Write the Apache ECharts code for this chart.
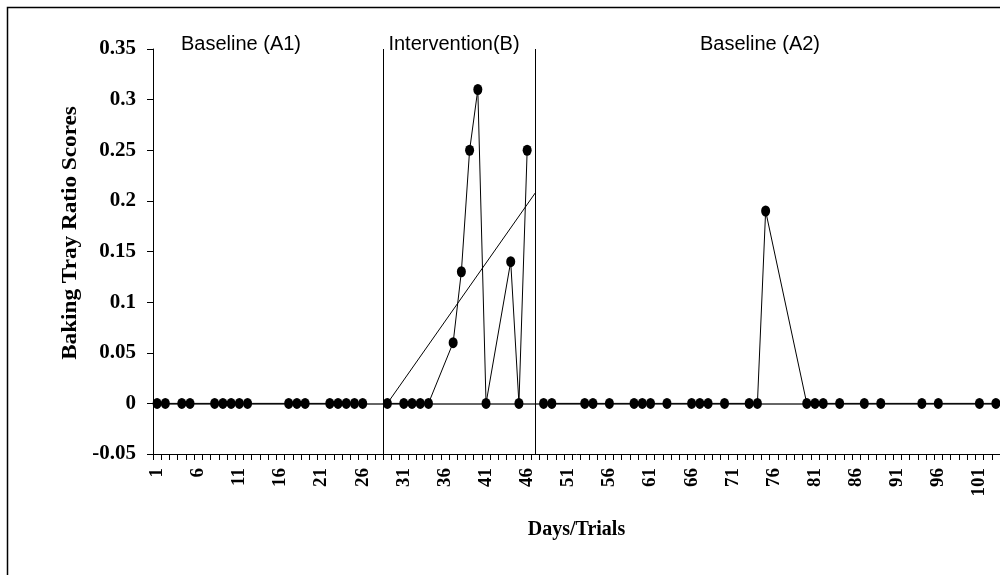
<!DOCTYPE html>
<html>
<head>
<meta charset="utf-8">
<title>Baking Tray Ratio Scores</title>
<script src="https://cdn.jsdelivr.net/npm/echarts@6/dist/echarts.min.js"></script>
<style>
  html, body { margin: 0; padding: 0; background: #fff; }
  #chart { width: 1000px; height: 575px; }
</style>
</head>
<body>
<div id="chart"></div>
<script>
// Number of days on the horizontal axis
const dayCount = 103;

// Baseline (A1) sessions
const daysA1 = [1, 2, 4, 5, 8, 9, 10, 11, 12, 17, 18, 19, 22, 23, 24, 25, 26];
const scoresA1 = [0, 0, 0, 0, 0, 0, 0, 0, 0, 0, 0, 0, 0, 0, 0, 0, 0];

// Intervention (B) sessions
const daysB = [29, 31, 32, 33, 34, 37, 38, 39, 40, 41, 44, 45, 46];
const scoresB = [0, 0, 0, 0, 0, 0.06, 0.13, 0.25, 0.31, 0, 0.14, 0, 0.25];

// Baseline (A2) sessions
const daysA2 = [48, 49, 53, 54, 56, 59, 60, 61, 63, 66, 67, 68, 70, 73, 74, 75,
                80, 81, 82, 84, 87, 89, 94, 96, 101, 103];
const scoresA2 = [0, 0, 0, 0, 0, 0, 0, 0, 0, 0, 0, 0, 0, 0, 0, 0.19,
                  0, 0, 0, 0, 0, 0, 0, 0, 0, 0];

// Trend line through the intervention phase (start, end)
const trendDays = [29, 47];
const trendScores = [0, 0.208];

// Phase change lines (in day units) and phase titles
const phaseChanges = [28.5, 47];
const phaseTitles = ['Baseline (A1)', 'Intervention(B)', 'Baseline (A2)'];

// Y axis range
const yMin = -0.05, yMax = 0.35, yStep = 0.05;

const categories = [];
for (let d = 1; d <= dayCount; d++) categories.push(String(d));

function toCategoryData(days, scores) {
  const arr = new Array(dayCount).fill(null);
  days.forEach((d, i) => { arr[d - 1] = scores[i]; });
  return arr;
}

const serif = '"Liberation Serif", "Times New Roman", serif';
const sans = '"Liberation Sans", Arial, sans-serif';

function phaseSeries(name, days, scores) {
  return {
    name: name,
    type: 'line',
    xAxisIndex: 0,
    yAxisIndex: 0,
    data: toCategoryData(days, scores),
    connectNulls: true,
    showAllSymbol: true,
    symbol: 'circle',
    symbolSize: [9, 11],
    itemStyle: { color: '#000' },
    lineStyle: { color: '#000', width: 1 },
    z: 5
  };
}

const chart = echarts.init(document.getElementById('chart'), null, { renderer: 'canvas' });

chart.setOption({
  animation: false,
  backgroundColor: '#fff',
  grid: { left: 153, right: 0, top: 49, bottom: 121 },
  xAxis: [
    {
      type: 'category',
      data: categories,
      boundaryGap: true,
      position: 'bottom',
      axisLine: { onZero: false, lineStyle: { color: '#000', width: 1 } },
      axisTick: { show: true, interval: 0, length: 6, alignWithLabel: false, lineStyle: { color: '#000' } },
      axisLabel: {
        interval: 4,
        rotate: 90,
        margin: 14,
        fontFamily: serif,
        fontWeight: 'bold',
        fontSize: 19,
        color: '#000'
      },
      splitLine: { show: false },
      name: 'Days/Trials',
      nameLocation: 'middle',
      nameGap: 66,
      nameTextStyle: { fontFamily: serif, fontWeight: 'bold', fontSize: 20, color: '#000' }
    },
    {
      type: 'value',
      min: 0.5,
      max: dayCount + 0.5,
      show: false
    }
  ],
  yAxis: {
    type: 'value',
    min: yMin,
    max: yMax,
    interval: yStep,
    axisLine: { show: true, lineStyle: { color: '#000', width: 1 } },
    axisTick: { show: true, length: 6, lineStyle: { color: '#000' } },
    splitLine: { show: false },
    axisLabel: {
      margin: 17,
      fontFamily: serif,
      fontWeight: 'bold',
      fontSize: 21,
      color: '#000',
      formatter: v => String(+v.toFixed(2))
    }
  },
  series: [
    {
      name: 'Trend (B)',
      type: 'line',
      xAxisIndex: 1,
      yAxisIndex: 0,
      data: trendDays.map((d, i) => [d, trendScores[i]]),
      symbol: 'none',
      lineStyle: { color: '#000', width: 1 },
      z: 4,
      markLine: {
        silent: true,
        symbol: 'none',
        label: { show: false },
        data: [
          { yAxis: 0, lineStyle: { color: '#333', width: 1.5, type: 'solid' } }
        ].concat(phaseChanges.map(x => ({ xAxis: x, lineStyle: { color: '#000', width: 1, type: 'solid' } })))
      }
    },
    phaseSeries('Baseline (A1)', daysA1, scoresA1),
    phaseSeries('Intervention(B)', daysB, scoresB),
    phaseSeries('Baseline (A2)', daysA2, scoresA2)
  ],
  graphic: [
    {
      type: 'rect',
      shape: { x: 7.5, y: 7.5, width: 1100, height: 700 },
      style: { fill: 'none', stroke: '#000', lineWidth: 1.5 },
      silent: true
    },
    {
      // vertical axis title, slightly elongated along its reading direction
      type: 'text',
      x: 71,
      y: 233,
      rotation: Math.PI / 2,
      scaleX: 1.16,
      style: {
        text: 'Baking Tray Ratio Scores',
        font: 'bold 20px ' + serif,
        fill: '#000',
        textAlign: 'center',
        textVerticalAlign: 'middle'
      },
      silent: true
    }
  ].concat(phaseTitles.map((t, i) => ({
    type: 'text',
    x: [241, 454, 760][i],
    y: 44,
    style: {
      text: t,
      font: '20px ' + sans,
      fill: '#000',
      textAlign: 'center',
      textVerticalAlign: 'middle'
    },
    silent: true
  })))
});
</script>
</body>
</html>
